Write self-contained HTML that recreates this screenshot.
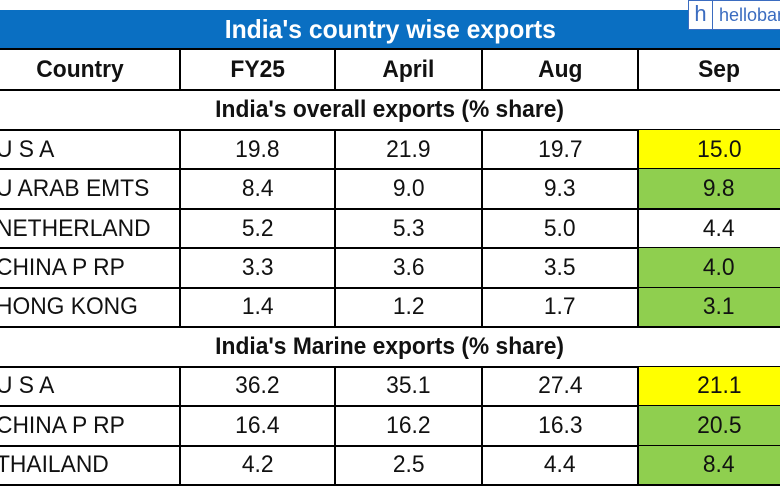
<!DOCTYPE html>
<html><head><meta charset="utf-8"><style>
body{margin:0;width:780px;height:470px;overflow:hidden;background:#fff;font-family:"Liberation Sans",sans-serif;position:relative}
.a{position:absolute;box-sizing:border-box}
.t{position:absolute;white-space:nowrap;font-size:24px;color:#111;line-height:38px}
.t span{display:inline-block;transform:scaleX(.95)}
.c{text-align:center}
.hl{position:absolute;background:#000}
</style></head><body>
<div class="a" style="left:0;top:10px;width:780px;height:38px;background:#0a6fc2"></div>
<div class="t c" style="left:0;top:10px;width:780px;color:#fff;font-weight:bold;font-size:26px"><span>India's country wise exports</span></div>
<div class="a" style="left:688px;top:0;width:100px;height:30px;background:#fff;border:1px solid #3b6cc0">
<div class="a" style="left:0;top:0;width:24px;height:28px;border-right:1px solid #3b6cc0;color:#3b6cc0;font-size:22px;line-height:26px;text-align:center">h</div>
<div class="a" style="left:30px;top:0;font-size:18px;line-height:28px;color:#3b6cc0;white-space:nowrap">hellobanks</div></div>
<div id="tbl"></div>
<script>
const headers=["Country","FY25","April","Aug","Sep"];
const sec1="India's overall exports (% share)";
const sec2="India's Marine exports (% share)";
const countries1=["U S A","U ARAB EMTS","NETHERLAND","CHINA P RP","HONG KONG"];
const fy25_1=["19.8","8.4","5.2","3.3","1.4"];
const apr_1=["21.9","9.0","5.3","3.6","1.2"];
const aug_1=["19.7","9.3","5.0","3.5","1.7"];
const sep_1=["15.0","9.8","4.4","4.0","3.1"];
const sepColor1=["y","g","","g","g"];
const countries2=["U S A","CHINA P RP","THAILAND"];
const fy25_2=["36.2","16.4","4.2"];
const apr_2=["35.1","16.2","2.5"];
const aug_2=["27.4","16.3","4.4"];
const sep_2=["21.1","20.5","8.4"];
const sepColor2=["y","g","g"];
const root=document.getElementById('tbl');
const colX=[-20,180,335,482,638,800];
function el(cls,style,txt){const d=document.createElement('div');d.className=cls;d.style.cssText=style;if(txt!==undefined){const s=document.createElement('span');s.textContent=txt;d.appendChild(s);}root.appendChild(d);return d;}
function hline(y){const d=el('hl',`left:0;top:${y-1}px;width:780px;height:2px`);

}
function vlines(y0,y1){for(let i=1;i<5;i++){const d=el('hl',`left:${colX[i]-1}px;top:${y0}px;width:2px;height:${y1-y0}px`);

}}
function row(y,h,vals,bold,sepc,name){
 if(sepc){const b=el('a',`left:${colX[4]}px;top:${y}px;width:${800-colX[4]}px;height:${h}px;background:${sepc=='y'?'#ffff00':'#8fcf4f'}`);
 
 }
 vals.forEach((v,i)=>{const st=i==0&&!bold?`left:-4px;top:${y+(h-38)/2}px;`:`left:${colX[i]}px;width:${colX[i+1]-colX[i]}px;top:${y+(h-38)/2}px;`;
 const d=el('t'+(i==0&&!bold?'':' c'),st+(bold?'font-weight:bold;':''),v);
 if(i==0&&!bold)d.firstChild.style.transformOrigin='left';
 
 });
}
hline(49);
row(50,40,headers,true,null,'header');
vlines(49,90);hline(90);
function sec(y,txt,name){const d=el('t c',`left:0;top:${y+1}px;width:780px;font-weight:bold`,txt);

}
sec(90,sec1,'section-overall');
let y=130;hline(y);
countries1.forEach((c,i)=>{row(y,39.4,[c,fy25_1[i],apr_1[i],aug_1[i],sep_1[i]],false,sepColor1[i],'overall-row');vlines(y,y+39.4);y+=39.4;hline(y);});
sec(y,sec2,'section-marine');
y+=39.5;hline(y);
countries2.forEach((c,i)=>{row(y,39.5,[c,fy25_2[i],apr_2[i],aug_2[i],sep_2[i]],false,sepColor2[i],'marine-row');vlines(y,y+39.5);y+=39.5;hline(y);});
</script>
</body></html>
